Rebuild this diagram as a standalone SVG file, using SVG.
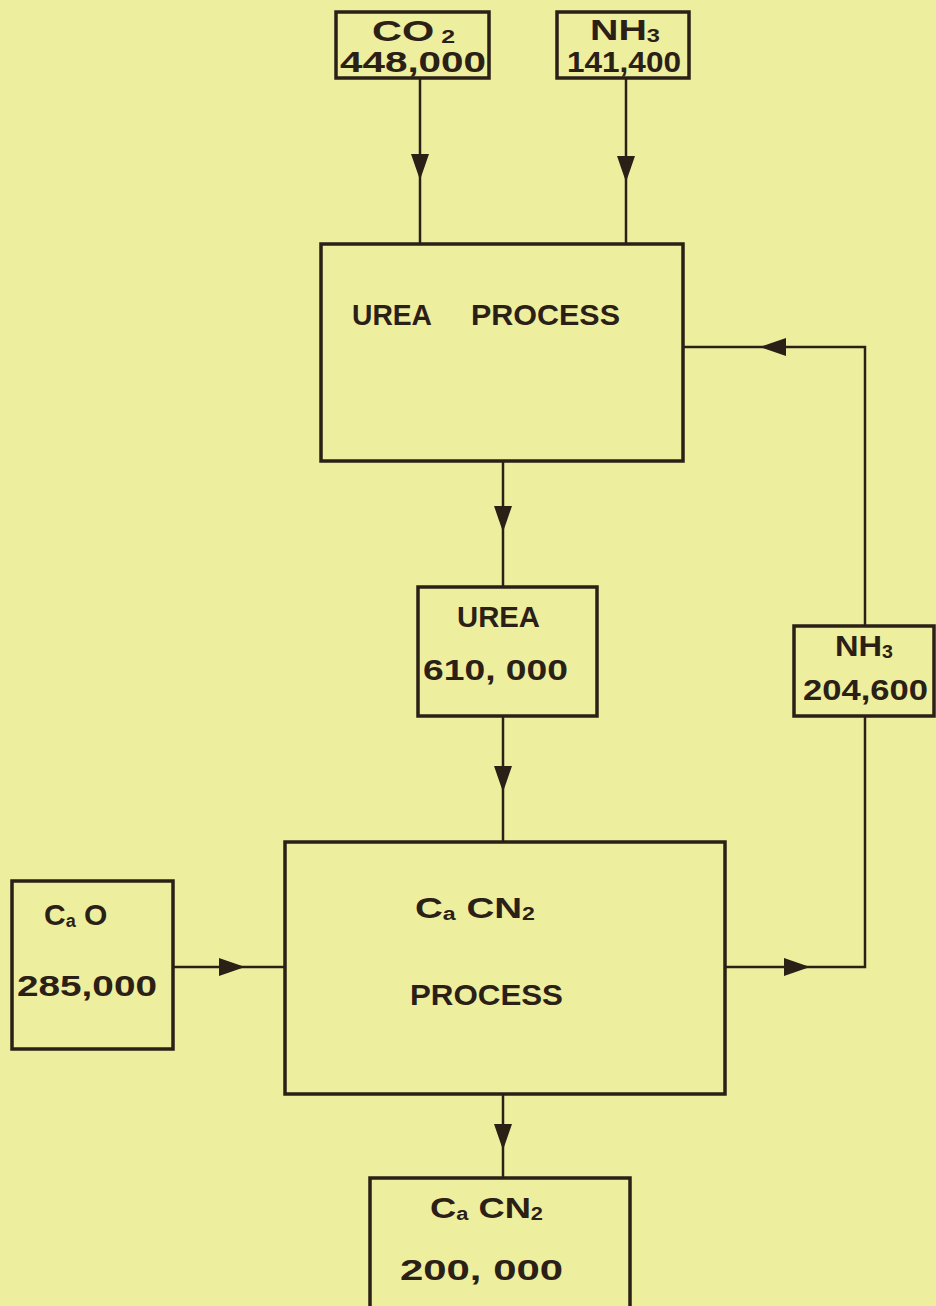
<svg xmlns="http://www.w3.org/2000/svg" width="936" height="1306" viewBox="0 0 936 1306">
<style>
.bx{fill:none;stroke:#2b2016;stroke-width:3.5}
.ln{fill:none;stroke:#2b2016;stroke-width:2.5}
.ah{fill:#2b2016}
.t{font-family:"Liberation Sans",Arial,sans-serif;font-weight:bold;fill:#2b2016;font-size:30px}
.s{font-size:18px}
</style>
<defs>
<path id="ah" d="M0,0 L-26,-9 L-26,9 Z"/>
</defs>
<rect width="936" height="1306" fill="#eeee9f"/>
<g id="connectors">
<path class="ln" d="M420,78 V244"/>
<path class="ln" d="M626,78 V244"/>
<path class="ln" d="M503,461 V587"/>
<path class="ln" d="M503,716 V842"/>
<path class="ln" d="M173,967 H285"/>
<path class="ln" d="M725,967 H865 V716"/>
<path class="ln" d="M865,626 V347 H683"/>
<path class="ln" d="M503,1094 V1178"/>
<use class="ah" href="#ah" transform="translate(420,180) rotate(90)"/>
<use class="ah" href="#ah" transform="translate(626,182) rotate(90)"/>
<use class="ah" href="#ah" transform="translate(503,532) rotate(90)"/>
<use class="ah" href="#ah" transform="translate(503,792) rotate(90)"/>
<use class="ah" href="#ah" transform="translate(245,967)"/>
<use class="ah" href="#ah" transform="translate(810,967)"/>
<use class="ah" href="#ah" transform="translate(760,347) rotate(180)"/>
<use class="ah" href="#ah" transform="translate(503,1150) rotate(90)"/>
</g>
<g id="co2">
<rect class="bx" x="336" y="12" width="153" height="66"/>
<text class="t" x="372" y="41" textLength="83" lengthAdjust="spacingAndGlyphs">CO<tspan class="s" dy="2"> 2</tspan></text>
<text class="t" x="340" y="72" textLength="146" lengthAdjust="spacingAndGlyphs">448,000</text>
</g>
<g id="nh3-in">
<rect class="bx" x="557" y="12" width="132" height="66"/>
<text class="t" x="590" y="40" textLength="70" lengthAdjust="spacingAndGlyphs">NH<tspan class="s" dy="2">3</tspan></text>
<text class="t" x="567" y="72" textLength="114" lengthAdjust="spacingAndGlyphs">141,400</text>
</g>
<g id="urea-process">
<rect class="bx" x="321" y="244" width="362" height="217"/>
<text class="t" x="352" y="325" textLength="80" lengthAdjust="spacingAndGlyphs">UREA</text>
<text class="t" x="471" y="325" textLength="149" lengthAdjust="spacingAndGlyphs">PROCESS</text>
</g>
<g id="urea">
<rect class="bx" x="418" y="587" width="179" height="129"/>
<text class="t" x="457" y="627" textLength="83" lengthAdjust="spacingAndGlyphs">UREA</text>
<text class="t" x="423" y="680" textLength="145" lengthAdjust="spacingAndGlyphs">610, 000</text>
</g>
<g id="nh3-out">
<rect class="bx" x="794" y="626" width="140" height="90"/>
<text class="t" x="835" y="656" textLength="58" lengthAdjust="spacingAndGlyphs">NH<tspan class="s" dy="2">3</tspan></text>
<text class="t" x="803" y="700" textLength="125" lengthAdjust="spacingAndGlyphs">204,600</text>
</g>
<g id="cao">
<rect class="bx" x="12" y="881" width="161" height="168"/>
<text class="t" x="44" y="925">C<tspan class="s" dy="2">a</tspan><tspan dy="-2"> O</tspan></text>
<text class="t" x="17" y="996" textLength="140" lengthAdjust="spacingAndGlyphs">285,000</text>
</g>
<g id="cacn2-process">
<rect class="bx" x="285" y="842" width="440" height="252"/>
<text class="t" x="415" y="918" textLength="120" lengthAdjust="spacingAndGlyphs">C<tspan class="s" dy="2">a</tspan><tspan dy="-2"> CN</tspan><tspan class="s" dy="2">2</tspan></text>
<text class="t" x="410" y="1005" textLength="153" lengthAdjust="spacingAndGlyphs">PROCESS</text>
</g>
<g id="cacn2">
<rect class="bx" x="370" y="1178" width="260" height="140"/>
<text class="t" x="430" y="1218" textLength="113" lengthAdjust="spacingAndGlyphs">C<tspan class="s" dy="2">a</tspan><tspan dy="-2"> CN</tspan><tspan class="s" dy="2">2</tspan></text>
<text class="t" x="400" y="1280" textLength="163" lengthAdjust="spacingAndGlyphs">200, 000</text>
</g>
</svg>
